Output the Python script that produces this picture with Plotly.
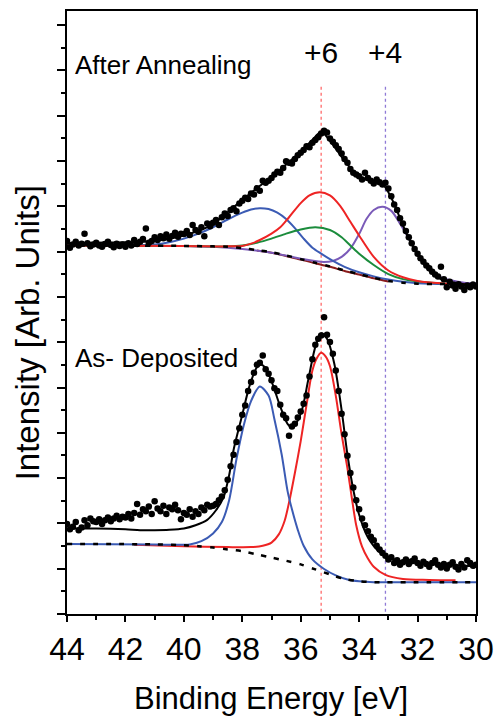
import plotly.graph_objects as go

# ---------------- data ----------------
energy = [round(44.0 - 0.1 * i, 1) for i in range(141)]

# After annealing: measured points
ann_data = [
    8.20, 8.05, 8.12, 8.18, 8.10, 8.14, 8.36, 8.15, 8.08, 8.12,
    8.16, 8.10, 8.07, 8.13, 8.18, 8.11, 8.06, 8.14, 8.09, 8.12,
    8.07, 8.15, 8.10, 8.22, 8.13, 8.18, 8.24, 8.47, 8.16, 8.20,
    8.28, 8.22, 8.30, 8.26, 8.34, 8.25, 8.31, 8.38, 8.29, 8.36,
    8.35, 8.42, 8.33, 8.55, 8.44, 8.40, 8.50, 8.30, 8.58, 8.52,
    8.60, 8.66, 8.55, 8.72, 8.80, 8.75, 8.88, 8.92, 8.85, 9.02,
    9.08, 9.15, 9.12, 9.24, 9.22, 9.36, 9.30, 9.52, 9.48, 9.52,
    9.58, 9.66, 9.72, 9.70, 9.80, 9.95, 9.92, 9.90, 10.00, 10.08,
    10.14, 10.20, 10.28, 10.26, 10.36, 10.42, 10.48, 10.56, 10.62, 10.58,
    10.45, 10.38, 10.30, 10.22, 10.12, 10.00, 9.92, 9.78, 9.70, 9.66,
    9.62, 9.55, 9.70, 9.58, 9.52, 9.46, 9.55, 9.49, 9.44, 9.48,
    9.35, 9.18, 9.00, 8.88, 8.70, 8.58, 8.42, 8.28, 8.15, 8.02,
    7.92, 7.82, 7.74, 7.66, 7.60, 7.52, 7.46, 7.42, 7.63, 7.36,
    7.18, 7.30, 7.22, 7.15, 7.25, 7.20, 7.12, 7.22, 7.18, 7.24,
    7.20,
]

# As-deposited: measured points
dep_data = [
    1.98, 1.86, 1.92, 2.02, 1.84, 1.90, 2.06, 1.95, 2.10, 2.04,
    2.02, 2.08, 1.98, 2.06, 2.12, 2.04, 2.10, 2.16, 2.08, 2.14,
    2.12, 2.20, 2.10, 2.22, 2.42, 2.18, 2.30, 2.26, 2.36, 2.20,
    2.48, 2.32, 2.26, 2.38, 2.20, 2.34, 2.30, 2.40, 2.28, 2.08,
    2.22, 2.18, 2.30, 2.14, 2.26, 2.20, 2.34, 2.28, 2.40, 2.36,
    2.38, 2.42, 2.50, 2.58, 2.72, 2.95, 3.25, 3.50, 3.78, 4.08,
    4.38, 4.58, 4.90, 5.10, 5.30, 5.48, 5.52, 5.68, 5.38, 5.28,
    5.14, 4.96, 4.90, 4.60, 4.38, 4.30, 3.92, 4.12, 4.18, 4.32,
    4.45, 4.62, 4.80, 5.22, 5.60, 5.92, 6.05, 6.12, 6.52, 6.14,
    5.98, 5.72, 5.35, 4.90, 4.40, 3.95, 3.48, 3.10, 2.78, 2.50,
    2.30, 2.10, 1.95, 1.82, 1.70, 1.62, 1.50, 1.42, 1.34, 1.28,
    1.20, 1.25, 1.12, 1.18, 1.08, 1.14, 1.20, 1.10, 1.16, 1.22,
    1.12, 1.06, 1.15, 1.10, 1.04, 1.12, 1.18, 1.08, 1.02, 1.10,
    1.00, 1.08, 1.14, 1.04, 0.98, 1.10, 1.02, 1.18, 1.12, 1.06,
    1.08,
]

# After annealing: fitted curves
ann_bg_x = [44, 40, 39, 38.5, 38, 37.5, 37, 36.5, 36, 35.5, 35, 34.5, 34, 33.5, 33, 32.5, 32, 31, 30]
ann_bg_y = [8.10, 8.09, 8.08, 8.07, 8.04, 8.00, 7.95, 7.88, 7.80, 7.72, 7.64, 7.55, 7.47, 7.39, 7.32, 7.28, 7.26, 7.25, 7.25]

ann_bg2_x = [37.5, 37, 36.5, 36, 35.5, 35, 34.5, 34, 33.5, 33]
ann_bg2_y = [7.99, 7.94, 7.87, 7.79, 7.71, 7.63, 7.54, 7.46, 7.38, 7.31]

ann_blue_x = [44, 42, 41, 40.5, 40, 39.5, 39, 38.5, 38, 37.7, 37.4, 37.1, 36.8, 36.5, 36.2, 35.9, 35.6, 35.3, 35, 34.5, 34, 33.5, 33, 32.5, 32, 31, 30]
ann_blue_y = [8.10, 8.10, 8.12, 8.17, 8.25, 8.36, 8.50, 8.67, 8.82, 8.89, 8.92, 8.90, 8.82, 8.68, 8.48, 8.25, 8.05, 7.92, 7.80, 7.63, 7.51, 7.42, 7.35, 7.30, 7.27, 7.25, 7.25]

ann_red_x = [44, 40, 38.5, 38, 37.7, 37.4, 37.0, 36.7, 36.4, 36.0, 35.7, 35.35, 35, 34.65, 34.3, 34, 33.5, 33, 32.5, 32, 31.2, 30]
ann_red_y = [8.10, 8.09, 8.08, 8.09, 8.14, 8.22, 8.36, 8.50, 8.72, 9.03, 9.20, 9.27, 9.20, 8.97, 8.62, 8.32, 7.85, 7.55, 7.40, 7.32, 7.27, 7.25]

ann_green_x = [44, 40, 38.5, 38, 37.5, 37, 36.5, 36, 35.5, 35, 34.6, 34.3, 34, 33.5, 33, 32.5, 32, 31, 30]
ann_green_y = [8.10, 8.09, 8.08, 8.10, 8.16, 8.25, 8.36, 8.45, 8.50, 8.44, 8.28, 8.10, 7.92, 7.67, 7.47, 7.36, 7.31, 7.26, 7.25]

ann_purple_x = [44, 40, 39, 38, 37, 36, 35.3, 34.9, 34.6, 34.3, 34.0, 33.75, 33.5, 33.2, 32.9, 32.6, 32.3, 32.0, 31.7, 31.35, 30.9, 30.4, 30]
ann_purple_y = [8.10, 8.09, 8.07, 8.02, 7.94, 7.81, 7.74, 7.76, 7.85, 8.03, 8.35, 8.68, 8.88, 8.95, 8.86, 8.58, 8.25, 7.92, 7.64, 7.45, 7.34, 7.28, 7.27]

ann_fit_x = [44, 43, 42, 41, 40.5, 40, 39.5, 39, 38.5, 38, 37.5, 37, 36.5, 36, 35.6, 35.3, 35.0, 34.5, 34.0, 33.5, 33.2, 32.9, 32.6, 32.3, 32.0, 31.6, 31.2, 30.8, 30.4, 30]
ann_fit_y = [8.15, 8.16, 8.17, 8.20, 8.25, 8.32, 8.42, 8.57, 8.83, 9.10, 9.36, 9.61, 9.88, 10.16, 10.42, 10.60, 10.40, 9.96, 9.60, 9.50, 9.45, 9.15, 8.70, 8.25, 7.90, 7.55, 7.36, 7.29, 7.25, 7.23]

# As-deposited: fitted curves
dep_bg_x = [44, 41, 40, 39.5, 39, 38.5, 38, 37.5, 37, 36.5, 36, 35.5, 35, 34.5, 34, 33.5, 32, 30]
dep_bg_y = [1.54, 1.53, 1.51, 1.49, 1.46, 1.42, 1.38, 1.31, 1.24, 1.17, 1.09, 0.98, 0.87, 0.77, 0.72, 0.70, 0.70, 0.70]

dep_blue_x = [44, 41, 40.3, 39.8, 39.4, 39.0, 38.7, 38.45, 38.2, 37.95, 37.7, 37.4, 37.1, 36.9, 36.65, 36.45, 36.3, 36.1, 35.9, 35.6, 35.2, 34.8, 34.4, 34.0, 33.5, 32, 30]
dep_blue_y = [1.54, 1.53, 1.52, 1.53, 1.60, 1.77, 2.02, 2.50, 3.40, 4.15, 4.68, 5.00, 4.80, 4.28, 3.50, 2.70, 2.30, 1.85, 1.50, 1.20, 0.99, 0.85, 0.76, 0.72, 0.70, 0.70, 0.70]

dep_red_x = [41.7, 40, 38.5, 37.7, 37.3, 37.0, 36.75, 36.55, 36.4, 36.2, 36.0, 35.8, 35.6, 35.45, 35.3, 35.15, 35.0, 34.8, 34.6, 34.4, 34.25, 34.1, 33.9, 33.7, 33.5, 33.1, 32.5, 31.6, 30.7]
dep_red_y = [1.52, 1.49, 1.47, 1.47, 1.50, 1.57, 1.75, 2.05, 2.45, 3.10, 3.80, 4.60, 5.35, 5.62, 5.74, 5.66, 5.45, 4.80, 3.95, 3.20, 2.55, 1.95, 1.48, 1.22, 1.04, 0.86, 0.77, 0.75, 0.74]

dep_fit_x = [44, 43, 42, 41.5, 41, 40.5, 40, 39.6, 39.2, 38.9, 38.65, 38.45, 38.3, 38.0, 37.75, 37.5, 37.35, 37.2, 37.0, 36.7, 36.45, 36.3, 36.15, 35.95, 35.75, 35.5, 35.3, 35.1, 34.85, 34.6, 34.4, 34.2, 34.0, 33.7, 33.3, 32.9, 32.4, 31.6, 30.8, 30]
dep_fit_y = [1.88, 1.88, 1.86, 1.84, 1.84, 1.85, 1.88, 1.95, 2.07, 2.28, 2.55, 3.05, 3.60, 4.38, 5.02, 5.42, 5.48, 5.40, 5.12, 4.56, 4.18, 4.10, 4.20, 4.50, 5.12, 5.87, 6.17, 6.05, 5.50, 4.48, 3.50, 2.73, 2.18, 1.68, 1.36, 1.22, 1.14, 1.10, 1.07, 1.05]

# reference lines (oxidation states)
state_labels = ["+6", "+4"]
state_energy = [35.3, 33.1]

x_ticks = [44, 42, 40, 38, 36, 34, 32, 30]

# ---------------- styles ----------------
BLUE = "#3b5bb4"
RED = "#ee2424"
GREEN = "#1b8c3c"
PURPLE = "#7a5ab8"
MAROON = "#8a1c1c"
FONT = "Liberation Sans, Arial, sans-serif"

fig = go.Figure()

def line(x, y, color, width=2.0, dash=None, shape="spline"):
    fig.add_trace(go.Scatter(x=x, y=y, mode="lines",
                             line=dict(color=color, width=width, dash=dash, shape=shape, smoothing=0.8),
                             hoverinfo="skip", showlegend=False))

# vertical reference lines
for e, c in zip(state_energy, ["#ff6a6a", "#8f7ad6"]):
    fig.add_trace(go.Scatter(x=[e, e], y=[0.05, 11.6], mode="lines",
                             line=dict(color=c, width=1.3, dash="3px,3px"),
                             hoverinfo="skip", showlegend=False))

# after annealing
line(ann_bg2_x, ann_bg2_y, MAROON)
line(ann_purple_x, ann_purple_y, PURPLE)
line(ann_blue_x, ann_blue_y, BLUE)
line(ann_green_x, ann_green_y, GREEN)
line(ann_red_x, ann_red_y, RED)
line(ann_bg_x, ann_bg_y, "black", width=2.5, dash="5px,8px")
fig.add_trace(go.Scatter(x=energy, y=ann_data, mode="markers",
                         marker=dict(color="black", size=6.5), showlegend=False))
line(ann_fit_x, ann_fit_y, "black")

# as deposited
line(dep_red_x, dep_red_y, RED)
line(dep_blue_x, dep_blue_y, BLUE)
line(dep_bg_x, dep_bg_y, "black", width=2.5, dash="5px,8px")
fig.add_trace(go.Scatter(x=energy, y=dep_data, mode="markers",
                         marker=dict(color="black", size=6.5), showlegend=False))
line(dep_fit_x, dep_fit_y, "black")

# labels
fig.add_annotation(x=43.78, y=12.07, text="After Annealing", showarrow=False,
                   xanchor="left", yanchor="middle", font=dict(size=26, color="black", family=FONT))
fig.add_annotation(x=43.78, y=5.62, text="As- Deposited", showarrow=False,
                   xanchor="left", yanchor="middle", font=dict(size=26, color="black", family=FONT))
for lab, e in zip(state_labels, state_energy):
    fig.add_annotation(x=e, y=12.34, text=lab, showarrow=False,
                       xanchor="center", yanchor="middle", font=dict(size=30, color="black", family=FONT))

# axis titles placed precisely
fig.add_annotation(xref="paper", yref="paper", x=0.499, y=-0.107, text="Binding Energy [eV]",
                   showarrow=False, xanchor="center", yanchor="top",
                   font=dict(size=31, color="black", family=FONT))
fig.add_annotation(xref="paper", yref="paper", x=-0.097, y=0.466, text="Intensity [Arb. Units]",
                   showarrow=False, xanchor="center", yanchor="middle", textangle=-90,
                   font=dict(size=33, color="black", family=FONT))

fig.update_layout(
    width=496, height=718,
    margin=dict(l=67, r=20, t=11, b=104),
    paper_bgcolor="white", plot_bgcolor="white",
    font=dict(family=FONT, color="black"),
    showlegend=False,
    xaxis=dict(range=[44, 30], tickvals=x_ticks, ticktext=[str(v) for v in x_ticks],
               ticks="outside", ticklen=6, tickwidth=2, tickcolor="black",
               minor=dict(dtick=1, ticks="outside", ticklen=4, tickwidth=1.5, tickcolor="black"),
               showline=True, mirror=True, linewidth=2, linecolor="black",
               showgrid=False, zeroline=False, automargin=False,
               tickfont=dict(size=32, family=FONT)),
    yaxis=dict(range=[0, 13.253], tick0=0, dtick=0.9956, showticklabels=False,
               ticks="outside", ticklen=8, tickwidth=2, tickcolor="black",
               minor=dict(dtick=0.4978, ticks="outside", ticklen=4, tickwidth=1.5, tickcolor="black"),
               showline=True, mirror=True, linewidth=2, linecolor="black",
               showgrid=False, zeroline=False, automargin=False),
)

fig.write_html("out.html", config={"displayModeBar": False},
               post_script="document.body.style.margin='0px';document.body.style.overflow='hidden';")
